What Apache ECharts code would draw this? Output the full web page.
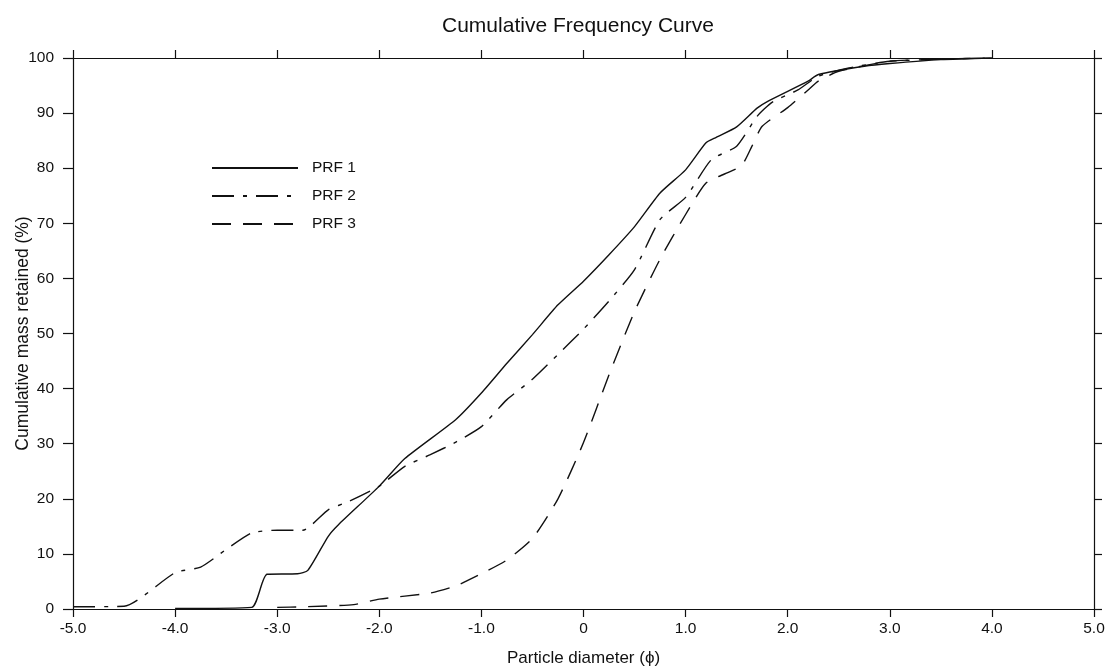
<!DOCTYPE html>
<html>
<head>
<meta charset="utf-8">
<script src="https://cdn.jsdelivr.net/npm/echarts@6/dist/echarts.min.js"></script>
<style>
html,body{margin:0;padding:0;background:#fff;}
#chart{width:1110px;height:667px;}
</style>
</head>
<body>
<div id="chart"></div>
<script>
var xTicks = ['-5.0','-4.0','-3.0','-2.0','-1.0','0','1.0','2.0','3.0','4.0','5.0'];
var seriesNames = ['PRF 1','PRF 2','PRF 3'];

var prf1Phi = [-4.0,-3.25,-3.1,-2.8,-2.7,-2.5,-2.4,-2.0,-1.75,-1.25,-1.0,-0.75,-0.5,-0.25,0,0.25,0.5,0.75,1.0,1.2,1.3,1.5,1.7,1.8,2.2,2.3,2.75,3.0,3.5,4.0];
var prf1Val = [0.1,0.3,6.3,6.4,7.0,13.2,15.3,22.3,27.3,34.4,39.2,44.6,49.8,55.2,59.5,64.3,69.4,75.5,79.7,84.6,85.6,87.5,90.9,92.1,95.8,97.0,98.5,99.0,99.7,100];

var prf2Phi = [-5.0,-4.5,-4.0,-3.75,-3.5,-3.25,-3.0,-2.75,-2.5,-2.3,-2.0,-1.75,-1.5,-1.25,-1.0,-0.75,-0.5,-0.25,0,0.25,0.5,0.75,1.0,1.25,1.5,1.7,1.85,2.1,2.3,2.6,3.0,3.5,4.0];
var prf2Val = [0.4,0.5,6.6,7.6,10.8,13.8,14.3,14.3,18.0,19.5,22.3,25.9,28.0,30.3,33.1,38.0,41.7,46.2,50.8,55.9,61.6,70.7,74.7,81.5,84.0,89.4,92.0,94.2,96.7,98.2,99.4,99.8,100];

var prf3Phi = [-3.0,-2.75,-2.25,-2.0,-1.5,-1.25,-1.0,-0.75,-0.5,-0.25,0,0.25,0.5,0.75,1.0,1.2,1.4,1.55,1.65,1.75,2.0,2.2,2.3,2.5,3.0,3.5,4.0];
var prf3Val = [0.3,0.4,0.8,1.8,2.9,4.2,6.4,8.9,12.8,20.0,30.2,42.5,54.0,63.5,71.6,77.3,79.1,80.5,84.0,87.6,91.0,94.2,95.8,97.6,99.4,99.8,100];

function pairs(xs, ys){ var out=[]; for(var i=0;i<xs.length;i++){ out.push([xs[i], ys[i]]); } return out; }

var chart = echarts.init(document.getElementById('chart'), null, {renderer:'canvas'});
var ink = '#111';
var font = 'Liberation Sans, Arial, Helvetica, sans-serif';
var labelMap = {};
for (var i=0;i<xTicks.length;i++){ labelMap[String(-5+i)] = xTicks[i]; }

var lineCommon = {type:'line', symbol:'none', showSymbol:false, smooth:0.2, z:3};

chart.setOption({
  animation:false,
  backgroundColor:'#fff',
  title:{text:'Cumulative Frequency Curve', left:573, top:11, textAlign:'center',
    textStyle:{fontFamily:font, fontSize:21, fontWeight:'normal', color:ink}},
  legend:{orient:'vertical', left:206, top:155, itemWidth:86, itemHeight:14, itemGap:12,
    data:seriesNames,
    itemStyle:{opacity:0, color:'rgba(0,0,0,0)', borderWidth:0},
    textStyle:{fontFamily:font, fontSize:15.5, color:ink, padding:[0,0,0,9]}},
  grid:{left:73, right:16, top:58, bottom:58, containLabel:false, outerBoundsMode:'none'},
  xAxis:[{type:'value', position:'bottom', min:-5, max:5, interval:1,
      name:'Particle diameter (\u03d5)', nameLocation:'middle', nameGap:41, nameMoveOverlap:false,
      nameTextStyle:{fontFamily:font, fontSize:17, color:ink},
      axisLine:{show:true, onZero:false, lineStyle:{color:ink, width:1.2}},
      axisTick:{show:true, length:8, inside:false, lineStyle:{color:ink, width:1.2}},
      axisLabel:{show:true, margin:12, fontFamily:font, fontSize:15.5, color:ink,
        formatter:function(v){ var k=String(Math.round(v)); return labelMap[k]!==undefined?labelMap[k]:v; }},
      splitLine:{show:false}},
    {type:'value', position:'top', min:-5, max:5, interval:1,
      axisLine:{show:true, onZero:false, lineStyle:{color:ink, width:1.2}},
      axisTick:{show:true, length:8, inside:false, lineStyle:{color:ink, width:1.2}},
      axisLabel:{show:false}, splitLine:{show:false}}],
  yAxis:[{type:'value', position:'left', min:0, max:100, interval:10,
      name:'Cumulative mass retained (%)', nameLocation:'middle', nameGap:41, nameMoveOverlap:false,
      nameTextStyle:{fontFamily:font, fontSize:17.5, color:ink},
      axisLine:{show:true, onZero:false, lineStyle:{color:ink, width:1.2}},
      axisTick:{show:true, length:10, inside:false, lineStyle:{color:ink, width:1.2}},
      axisLabel:{show:true, margin:19, fontFamily:font, fontSize:15.5, color:ink},
      splitLine:{show:false}},
    {type:'value', position:'right', min:0, max:100, interval:10,
      axisLine:{show:true, onZero:false, lineStyle:{color:ink, width:1.2}},
      axisTick:{show:true, length:8, inside:false, lineStyle:{color:ink, width:1.2}},
      axisLabel:{show:false}, splitLine:{show:false}}],
  series:[
    Object.assign({}, lineCommon, {name:seriesNames[0], data:pairs(prf1Phi, prf1Val),
      itemStyle:{color:ink}, lineStyle:{color:ink, width:1.4, type:'solid'}}),
    Object.assign({}, lineCommon, {name:seriesNames[1], data:pairs(prf2Phi, prf2Val),
      itemStyle:{color:ink}, lineStyle:{color:ink, width:1.4, type:[22,9,4,9]}}),
    Object.assign({}, lineCommon, {name:seriesNames[2], data:pairs(prf3Phi, prf3Val),
      itemStyle:{color:ink}, lineStyle:{color:ink, width:1.4, type:[19,12]}})
  ]
});
</script>
</body>
</html>
